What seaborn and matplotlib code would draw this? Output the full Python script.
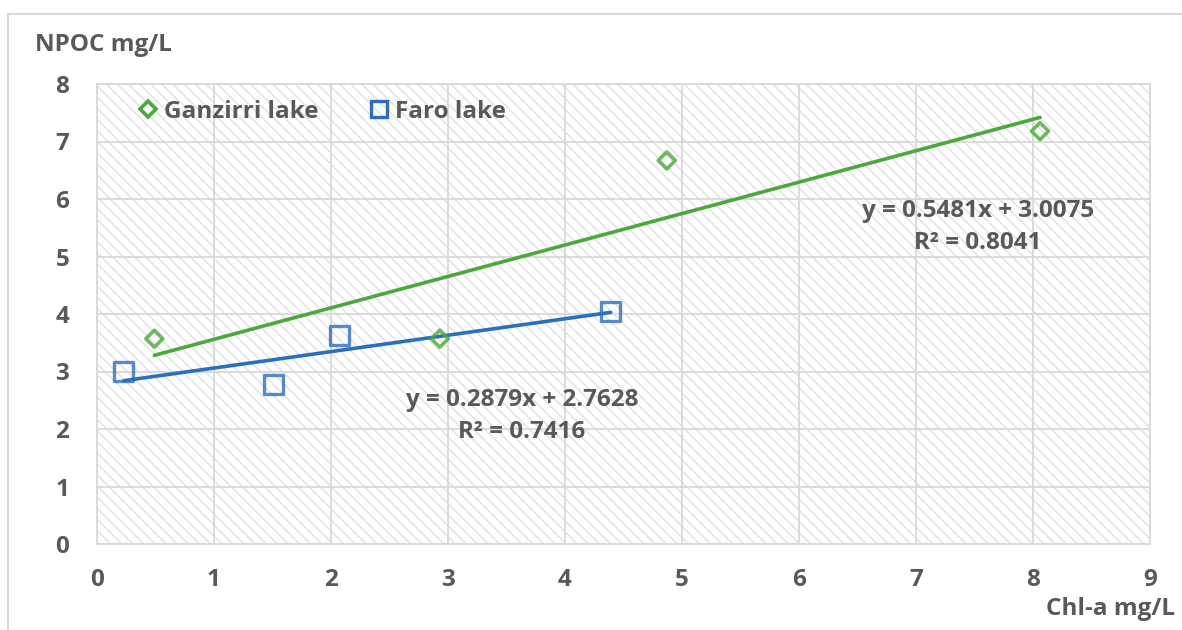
import numpy as np
import pandas as pd
import seaborn as sns
import matplotlib
matplotlib.use("Agg")
import matplotlib.pyplot as plt
from matplotlib.patches import Rectangle
from matplotlib.lines import Line2D

# Data
ganz_x = [0.49, 2.93, 4.87, 8.06]
ganz_y = [3.57, 3.57, 6.67, 7.18]
faro_x = [0.23, 1.51, 2.07, 4.39]
faro_y = [3.00, 2.77, 3.62, 4.05]
ganz_eq = "y = 0.5481x + 3.0075\nR² = 0.8041"
faro_eq = "y = 0.2879x + 2.7628\nR² = 0.7416"
x_ticks = list(range(0, 10))
y_ticks = list(range(0, 9))

GREEN = "#4CA83C"
BLUE = "#2C6FBD"
TXT = "#595959"
GRID = "#D9D9D9"
FS = 17.5

sns.set_theme(style="white")
plt.rcParams['font.family'] = ['Open Sans', 'DejaVu Sans']
plt.rcParams['font.weight'] = 'bold'
plt.rcParams['hatch.linewidth'] = 1.0
plt.rcParams['hatch.color'] = '#E0E0E0'
plt.rcParams['xtick.major.pad'] = 17
plt.rcParams['ytick.major.pad'] = 20
plt.rcParams['xtick.major.size'] = 0
plt.rcParams['ytick.major.size'] = 0

fig = plt.figure(figsize=(11.82, 6.30), dpi=100)
# outer chart border
fig.patches.append(Rectangle((8/1182, -0.1), 1.2, (630-14)/630 + 0.1, transform=fig.transFigure,
                             fill=False, edgecolor="#D9D9D9", linewidth=1.5))
ax = fig.add_axes([97/1182, 1-544/630, (1150-97)/1182, (544-84)/630])

ax.add_patch(Rectangle((0, 0), 1, 1, transform=ax.transAxes, facecolor='white',
                       edgecolor='#E0E0E0', hatch='\\' * 3, linewidth=0, zorder=0))

gdf = pd.DataFrame({"x": ganz_x, "y": ganz_y})
fdf = pd.DataFrame({"x": faro_x, "y": faro_y})

sns.regplot(data=gdf, x="x", y="y", ax=ax, ci=None, truncate=True,
            marker="D", scatter_kws=dict(s=75, facecolors='none', edgecolors=GREEN, linewidths=2.6, zorder=4),
            line_kws=dict(color=GREEN, lw=2.6, zorder=3))
sns.regplot(data=fdf, x="x", y="y", ax=ax, ci=None, truncate=True,
            marker="s", scatter_kws=dict(s=190, facecolors='none', edgecolors=BLUE, linewidths=2.4, zorder=4),
            line_kws=dict(color=BLUE, lw=2.6, zorder=3))

ax.set_xlim(0, 9)
ax.set_ylim(0, 8)
ax.set_xticks(x_ticks)
ax.set_yticks(y_ticks)
ax.set_xlabel("")
ax.set_ylabel("")
ax.grid(True, color=GRID, linewidth=1.3, zorder=1)
ax.set_axisbelow(True)
for s in ax.spines.values():
    s.set_color(GRID)
    s.set_linewidth(1.3)
ax.tick_params(axis='both', length=0, labelsize=FS, labelcolor=TXT)
ax.tick_params(axis='y', pad=20)
ax.tick_params(axis='x', pad=17)
for lab in ax.get_xticklabels() + ax.get_yticklabels():
    lab.set_fontweight('bold')

fig.text(35/1182, 1-45/630, "NPOC mg/L", fontsize=FS, fontweight='bold', color=TXT, va='center', ha='left')
fig.text(1175/1182, 1-609/630, "Chl-a mg/L", fontsize=FS, fontweight='bold', color=TXT, va='center', ha='right')

fig.text(978/1182, 1-227/630, ganz_eq, fontsize=FS, fontweight='bold', color=TXT,
         ha='center', va='center', linespacing=1.45)
fig.text(522/1182, 1-416/630, faro_eq, fontsize=FS, fontweight='bold', color=TXT,
         ha='center', va='center', linespacing=1.4)

handles = [Line2D([], [], marker='D', ls='none', mfc='none', mec=GREEN, mew=2.6, ms=8.5),
           Line2D([], [], marker='s', ls='none', mfc='none', mec=BLUE, mew=2.4, ms=12)]
ax.legend(handles, ["Ganzirri lake", "Faro lake"], loc='center left',
          bbox_to_anchor=((114-97)/(1150-97), (544-112)/(544-84)), ncol=2, frameon=False,
          labelcolor=TXT, handletextpad=0.15, columnspacing=2.0, handlelength=1.0,
          prop=dict(weight='bold', size=FS))

fig.savefig("out.png", dpi=100)
